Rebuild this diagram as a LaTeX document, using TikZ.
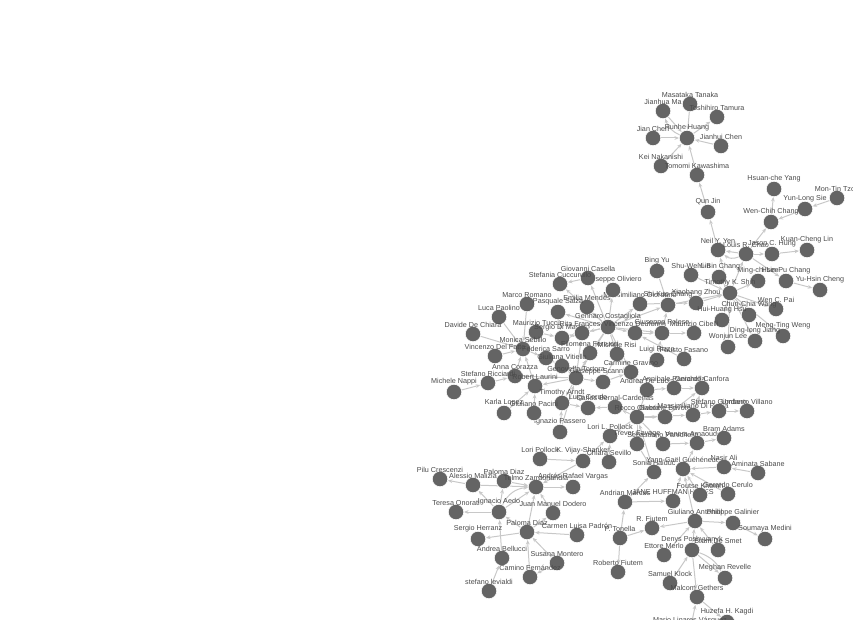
\documentclass[tikz,border=0pt]{standalone}
\usepackage{fontspec}
\setmainfont{Liberation Sans}
\usetikzlibrary{arrows.meta,backgrounds}
\definecolor{dotgray}{HTML}{646464}
\definecolor{linkgray}{HTML}{C8C8C8}
\definecolor{namegray}{HTML}{4A4A4A}
\tikzset{>=latex,
  person/.style={circle,fill=dotgray,draw=white,line width=0.6pt,minimum size=15.5pt,inner sep=0pt,
    label={[label distance=-2.6pt,text=namegray,font=\fontsize{7.2}{8}\selectfont,inner sep=1pt]above:#1}},
  coauth/.style={draw=linkgray,line width=1pt,-{Stealth[length=4.5pt,width=3.8pt]}},
}
\begin{document}
\begin{tikzpicture}[x=1pt,y=-1pt]
  \useasboundingbox (0,0) rectangle (853,620);

  \node[person={Masataka Tanaka}] (tanaka) at (690,104) {};
  \node[person={Jianhua Ma}] (jma) at (663,111) {};
  \node[person={Toshihiro Tamura}] (tamura) at (717,117) {};
  \node[person={Jian Chen}] (jchen) at (653,138) {};
  \node[person={Runhe Huang}] (huang) at (687,138) {};
  \node[person={Jianhui Chen}] (jhchen) at (721,146) {};
  \node[person={Kei Nakanishi}] (nakanishi) at (661,166) {};
  \node[person={Tomomi Kawashima}] (kawashima) at (697,175) {};
  \node[person={Qun Jin}] (qjin) at (708,212) {};
  \node[person={Hsuan-che Yang}] (yang) at (774,189) {};
  \node[person={Mon-Tin Tzou}] (tzou) at (837,198) {};
  \node[person={Yun-Long Sie}] (sie) at (805,209) {};
  \node[person={Wen-Chih Chang}] (wchang) at (771,222) {};
  \node[person={Neil Y. Yen}] (yen) at (718,250) {};
  \node[person={Louis R. Chao}] (chao) at (746,254) {};
  \node[person={Jason C. Hung}] (hung) at (772,254) {};
  \node[person={Kuan-Cheng Lin}] (lin) at (807,250) {};
  \node[person={Bing Yu}] (byu) at (657,271) {};
  \node[person={Shu-Wei Lin}] (swlin) at (691,275) {};
  \node[person={Yi-Bin Chang}] (bchang) at (719,277) {};
  \node[person={Ming-chi Lee}] (mlee) at (758,281) {};
  \node[person={Hsin-Pu Chang}] (pchang) at (786,281) {};
  \node[person={Yu-Hsin Cheng}] (ycheng) at (820,290) {};
  \node[person={Timothy K. Shih}] (shih) at (730,293) {};
  \node[person={Xiaohang Zhou}] (zhou) at (696,303) {};
  \node[person={Wen C. Pai}] (pai) at (776,309) {};
  \node[person={Chun-Chia Wang}] (wang) at (749,315) {};
  \node[person={Hui-Huang Hsu}] (hsu) at (722,320) {};
  \node[person={Meng-Ting Weng}] (weng) at (783,336) {};
  \node[person={Ding-long Jiang}] (jiang) at (755,341) {};
  \node[person={Wonjun Lee}] (wlee) at (728,347) {};

  \node[person={Shi-Kuo Chang}] (skchang) at (668,305) {};
  \node[person={Massimiliano Giordano}] (giordano) at (640,304) {};
  \node[person={Giuseppe Oliviero}] (oliviero) at (613,290) {};
  \node[person={Giovanni Casella}] (casella) at (588,278) {};
  \node[person={Stefania Cuccurullo}] (cucc) at (560,284) {};
  \node[person={Emilia Mendes}] (mendes) at (587,307) {};
  \node[person={Marco Romano}] (romano) at (527,304) {};
  \node[person={Pasquale Salza}] (salza) at (558,312) {};
  \node[person={Luca Paolino}] (paolino) at (499,317) {};
  \node[person={Davide De Chiara}] (dechiara) at (473,334) {};
  \node[person={Maurizio Tucci}] (tucci) at (536,332) {};
  \node[person={Sergio Di Martino}] (martino) at (562,338) {};
  \node[person={Rita Francese}] (francese) at (582,333) {};
  \node[person={Gennaro Costagliola}] (costa) at (608,327) {};
  \node[person={Vincenzo Deufemia}] (deufemia) at (635,333) {};
  \node[person={Giuseppe Polese}] (polese) at (662,333) {};
  \node[person={Maurizio Cibelli}] (cibelli) at (694,333) {};
  \node[person={Monica Sebillo}] (sebillo) at (523,349) {};
  \node[person={Vincenzo Del Fatto}] (delfatto) at (495,356) {};
  \node[person={Federica Sarro}] (sarro) at (546,358) {};
  \node[person={Filomena Ferrucci}] (ferrucci) at (590,353) {};
  \node[person={Michele Risi}] (risi) at (617,354) {};
  \node[person={Luigi Rizzo}] (rizzo) at (657,360) {};
  \node[person={Fausto Fasano}] (fasano) at (684,359) {};
  \node[person={Giuliana Vitiello}] (vitiello) at (562,366) {};
  \node[person={Anna Corazza}] (corazza) at (515,376) {};
  \node[person={Stefano Ricciardi}] (ricciardi) at (488,383) {};
  \node[person={Michele Nappi}] (nappi) at (454,392) {};
  \node[person={Robert Laurini}] (laurini) at (535,386) {};
  \node[person={Genoveffa Tortora}] (tortora) at (576,378) {};
  \node[person={Giuseppe Scanniello}] (scanniello) at (603,382) {};
  \node[person={Carmine Gravino}] (gravino) at (631,372) {};
  \node[person={Andrea De Lucia}] (delucia) at (647,390) {};
  \node[person={Annibale Panichella}] (apanichella) at (674,388) {};
  \node[person={Gerardo Canfora}] (canfora) at (702,388) {};
  \node[person={Timothy Arndt}] (arndt) at (562,403) {};
  \node[person={Luigi Cerulo}] (lcerulo) at (588,408) {};
  \node[person={Carlos Bernal-Cardenas}] (bernal) at (615,407) {};
  \node[person={Rocco Oliveto}] (oliveto) at (637,417) {};
  \node[person={Gabriele Bavota}] (bavota) at (665,417) {};
  \node[person={Massimiliano Di Penta}] (dipenta) at (693,415) {};
  \node[person={Stefano Giordano}] (sgiordano) at (719,411) {};
  \node[person={Umberto Villano}] (villano) at (747,411) {};
  \node[person={Ignazio Passero}] (passero) at (560,432) {};
  \node[person={Lori L. Pollock}] (llpollock) at (610,436) {};
  \node[person={Trevor Savage}] (savage) at (637,444) {};
  \node[person={Sebastiano Panichella}] (spanichella) at (663,444) {};
  \node[person={Venera Arnaoudova}] (arnaoudova) at (697,443) {};
  \node[person={Bram Adams}] (adams) at (724,438) {};
  \node[person={Lori Pollock}] (lpollock) at (540,459) {};
  \node[person={K. Vijay-Shanker}] (vijay) at (583,461) {};
  \node[person={Chiara Sevillo}] (sevillo) at (609,462) {};
  \node[person={Sonia Haiduc}] (haiduc) at (654,472) {};
  \node[person={Yann-Gaël Guéhéneuc}] (gueheneuc) at (683,469) {};
  \node[person={Nasir Ali}] (ali) at (724,467) {};
  \node[person={Aminata Sabane}] (sabane) at (758,473) {};
  \node[person={Karla Lopez}] (lopez) at (504,413) {};
  \node[person={Giuliano Pacini}] (pacini) at (534,413) {};

  \node[person={Pilu Crescenzi}] (crescenzi) at (440,479) {};
  \node[person={Alessio Malizia}] (malizia) at (473,485) {};
  \node[person={Paloma Diaz}] (pdiaz) at (504,481) {};
  \node[person={Telmo Zarraonandia}] (zarra) at (536,487) {};
  \node[person={Andrés Rafael Vargas}] (vargas) at (573,487) {};
  \node[person={Teresa Onorati}] (onorati) at (456,512) {};
  \node[person={Ignacio Aedo}] (aedo) at (499,512) {};
  \node[person={Juan Manuel Dodero}] (dodero) at (553,513) {};
  \node[person={Paloma Díaz}] (pdiazb) at (527,532) {};
  \node[person={Carmen Luisa Padrón}] (padron) at (577,535) {};
  \node[person={Sergio Herranz}] (herranz) at (478,539) {};
  \node[person={Andrea Bellucci}] (bellucci) at (502,558) {};
  \node[person={Susana Montero}] (montero) at (557,563) {};
  \node[person={Camino Fernández}] (fernandez) at (530,577) {};
  \node[person={stefano levialdi}] (levialdi) at (489,591) {};

  \node[person={Andrian Marcus}] (marcus) at (625,502) {};
  \node[person={JANE HUFFMAN HAYES}] (hayes) at (673,501) {};
  \node[person={R. Fiutem}] (rfiutem) at (652,528) {};
  \node[person={P. Tonella}] (tonella) at (620,538) {};
  \node[person={Ettore Merlo}] (merlo) at (664,555) {};
  \node[person={Roberto Fiutem}] (robfiutem) at (618,572) {};
  \node[person={Samuel Klock}] (klock) at (670,583) {};
  \node[person={Denys Poshyvanyk}] (poshy) at (692,550) {};
  \node[person={Foutse Khomh}] (khomh) at (700,495) {};
  \node[person={Gerardo Cerulo}] (gcerulo) at (728,494) {};
  \node[person={Giuliano Antoniol}] (antoniol) at (695,521) {};
  \node[person={Philippe Galinier}] (galinier) at (733,523) {};
  \node[person={Soumaya Medini}] (medini) at (765,539) {};
  \node[person={Bram De Smet}] (desmet) at (718,550) {};
  \node[person={Meghan Revelle}] (revelle) at (725,578) {};
  \node[person={Malcom Gethers}] (gethers) at (697,597) {};
  \node[person={Huzefa H. Kagdi}] (kagdi) at (727,622) {};
  \node[person={Mario Linares Vásquez}] (linares) at (690,631) {};

  \begin{scope}[on background layer]
    \foreach \a/\b in {jma/huang,tanaka/huang,huang/tamura,jchen/huang,jhchen/huang,nakanishi/huang,
        kawashima/huang,qjin/kawashima,yen/qjin,chao/yen,chao/wchang,wchang/yang,sie/wchang,tzou/sie,
        hung/lin,chao/hung,shih/chao,shih/yen,shih/bchang,shih/mlee,chao/pchang,pchang/ycheng,shih/pai,
        shih/wang,shih/hsu,shih/weng,shih/jiang,shih/wlee,zhou/shih,skchang/shih,swlin/shih,byu/skchang,
        costa/oliviero,costa/casella,costa/cucc,costa/mendes,costa/francese,costa/deufemia,costa/polese,
        costa/ferrucci,costa/risi,costa/giordano,costa/skchang,costa/martino,costa/salza,costa/tortora,
        costa/gravino,polese/cibelli,deufemia/polese,giordano/zhou,polese/skchang,rizzo/polese,fasano/deufemia,
        tucci/sebillo,romano/sebillo,paolino/sebillo,dechiara/sebillo,delfatto/sebillo,sebillo/sarro,
        sarro/vitiello,tucci/martino,salza/martino,corazza/sebillo,ricciardi/corazza,nappi/ricciardi,
        laurini/sebillo,tortora/laurini,tortora/vitiello,tortora/scanniello,tortora/francese,tortora/ferrucci,
        tortora/arndt,tortora/corazza,passero/tortora,scanniello/risi,scanniello/gravino,gravino/delucia,
        delucia/apanichella,apanichella/canfora,delucia/oliveto,oliveto/bavota,oliveto/dipenta,
        sgiordano/villano,dipenta/sgiordano,oliveto/bernal,bernal/lcerulo,arndt/lcerulo,oliveto/llpollock,
        oliveto/spanichella,oliveto/savage,bavota/canfora,dipenta/canfora,spanichella/arnaoudova,
        arnaoudova/adams,gueheneuc/arnaoudova,ali/gueheneuc,sabane/ali,lpollock/vijay,vijay/llpollock,
        sevillo/llpollock,lopez/laurini,pacini/laurini,passero/arndt,martino/francese,casella/cucc,
        malizia/crescenzi,aedo/onorati,aedo/malizia,aedo/pdiaz,aedo/zarra,pdiazb/herranz,pdiazb/aedo,
        pdiazb/zarra,pdiazb/dodero,padron/pdiazb,bellucci/aedo,levialdi/bellucci,fernandez/pdiazb,
        montero/pdiazb,montero/fernandez,zarra/vargas,dodero/zarra,pdiaz/zarra,vijay/zarra,malizia/zarra,
        tonella/rfiutem,tonella/robfiutem,tonella/marcus,marcus/hayes,marcus/haiduc,antoniol/rfiutem,
        antoniol/galinier,galinier/medini,desmet/antoniol,poshy/antoniol,poshy/revelle,poshy/gethers,
        gethers/kagdi,klock/poshy,merlo/antoniol,khomh/gueheneuc,gcerulo/gueheneuc,antoniol/gueheneuc,
        linares/gethers,hayes/gueheneuc,haiduc/oliveto,savage/haiduc}
      \draw[coauth] (\a) -- (\b);
    \draw[coauth] (huang) to[bend left=25] (jma);
    \draw[coauth] (chao) to[bend left=30] (yen);
    \draw[coauth] (aedo) to[bend left=30] (zarra);
    \draw[coauth] (poshy) to[bend left=20] (revelle);
  \end{scope}
\end{tikzpicture}
\end{document}
